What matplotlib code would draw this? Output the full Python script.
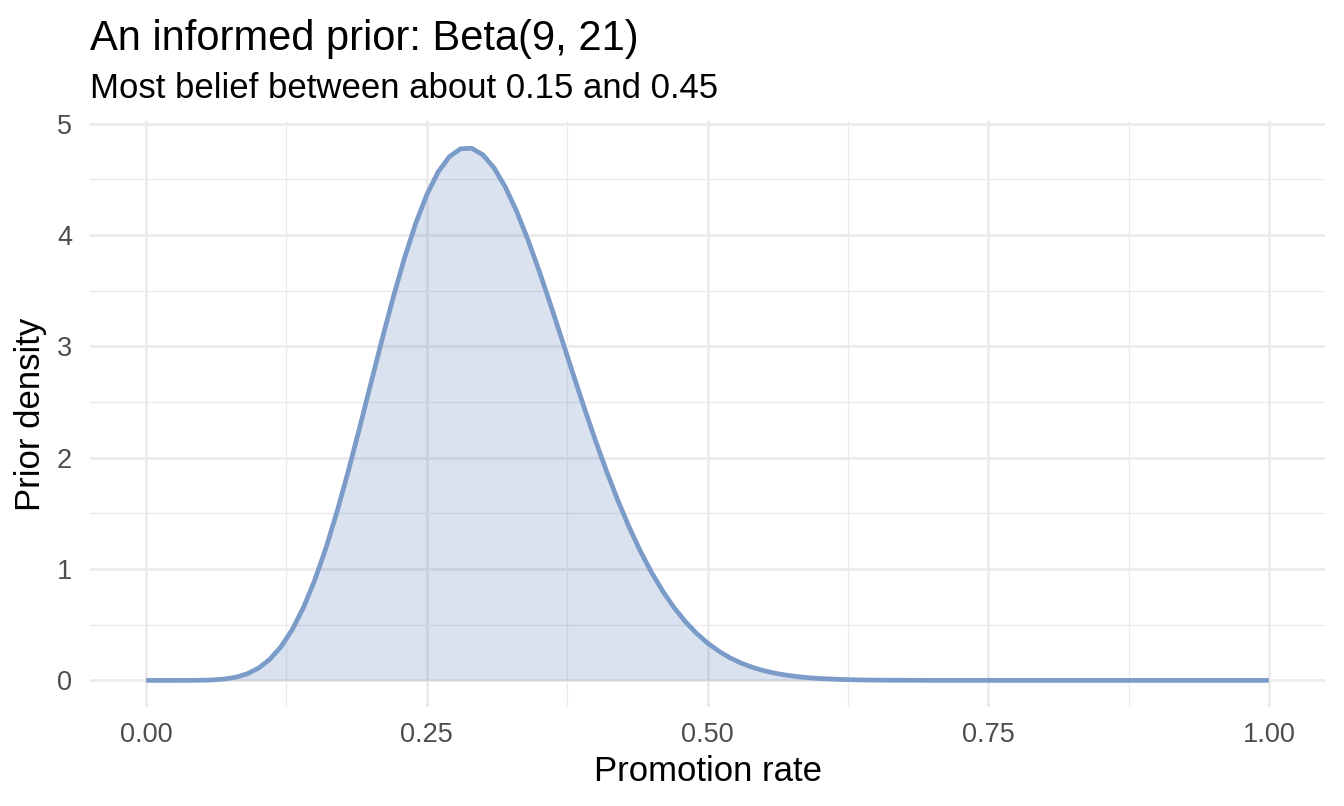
import matplotlib.pyplot as plt

plt.rcParams['font.family'] = ['Liberation Sans', 'DejaVu Sans']

# density of the prior
rate = [0.00, 0.01, 0.02, 0.03, 0.04, 0.05, 0.06, 0.07, 0.08, 0.09,
        0.10, 0.11, 0.12, 0.13, 0.14, 0.15, 0.16, 0.17, 0.18, 0.19,
        0.20, 0.21, 0.22, 0.23, 0.24, 0.25, 0.26, 0.27, 0.28, 0.29,
        0.30, 0.31, 0.32, 0.33, 0.34, 0.35, 0.36, 0.37, 0.38, 0.39,
        0.40, 0.41, 0.42, 0.43, 0.44, 0.45, 0.46, 0.47, 0.48, 0.49,
        0.50, 0.51, 0.52, 0.53, 0.54, 0.55, 0.56, 0.57, 0.58, 0.59,
        0.60, 0.62, 0.64, 0.66, 0.70, 0.75, 0.80, 0.90, 1.00]
density = [0.0, 0.0, 0.0, 0.00003, 0.00026, 0.0013, 0.0044, 0.0122, 0.0285, 0.0589,
           0.1096, 0.1879, 0.3006, 0.4538, 0.6514, 0.8954, 1.1842, 1.5137, 1.8765, 2.2627,
           2.6603, 3.0563, 3.4369, 3.7890, 4.1007, 4.3616, 4.5637, 4.7018, 4.7732, 4.7781,
           4.7188, 4.6002, 4.4287, 4.2121, 3.9592, 3.6789, 3.3800, 3.0713, 2.7606, 2.4548,
           2.1597, 1.8802, 1.6198, 1.3808, 1.1649, 0.9724, 0.8032, 0.6564, 0.5308, 0.4245,
           0.3358, 0.2627, 0.2031, 0.1553, 0.1173, 0.0875, 0.0645, 0.0469, 0.0337, 0.0238,
           0.0166, 0.0078, 0.0034, 0.0014, 0.0002, 0.0, 0.0, 0.0, 0.0]

x_ticks = [0.0, 0.25, 0.5, 0.75, 1.0]
x_labels = ["0.00", "0.25", "0.50", "0.75", "1.00"]
y_ticks = [0, 1, 2, 3, 4, 5]

line_col = "#7B9BC8"
fill_col = "#416EAA"
grid_col = "#EBEBEB"
tick_col = "#4D4D4D"

fig = plt.figure(figsize=(13.44, 8.06), dpi=100)
ax = fig.add_axes([90 / 1344, 1 - 707 / 806, 1235 / 1344, 586 / 806])

ax.fill_between(rate, density, 0, color=fill_col, alpha=0.2, linewidth=0, zorder=2)
ax.plot(rate, density, color=line_col, linewidth=3.4, solid_capstyle='butt',
        solid_joinstyle='round', zorder=3)

ax.set_xlim(-0.05, 1.05)
ax.set_ylim(-0.239, 5.023)
ax.set_xticks(x_ticks)
ax.set_xticklabels(x_labels)
ax.set_xticks([0.125, 0.375, 0.625, 0.875], minor=True)
ax.set_yticks(y_ticks)
ax.set_yticks([0.5, 1.5, 2.5, 3.5, 4.5], minor=True)

ax.set_axisbelow(True)
ax.grid(which='major', color=grid_col, linewidth=2.0)
ax.grid(which='minor', color=grid_col, linewidth=1.0)
for s in ax.spines.values():
    s.set_visible(False)
ax.tick_params(which='both', length=0)
ax.tick_params(axis='both', labelsize=19.5, labelcolor=tick_col)
ax.tick_params(axis='x', pad=11)
ax.tick_params(axis='y', pad=13)

ax.set_xlabel("Promotion rate", fontsize=25, labelpad=5)
ax.set_ylabel("Prior density", fontsize=25, labelpad=7)

fig.text(90 / 1344, 1 - 50 / 806, "An informed prior: Beta(9, 21)", fontsize=30,
         ha='left', va='baseline')
fig.text(90 / 1344, 1 - 98 / 806, "Most belief between about 0.15 and 0.45", fontsize=25,
         ha='left', va='baseline')

fig.savefig("out.png", dpi=100)
